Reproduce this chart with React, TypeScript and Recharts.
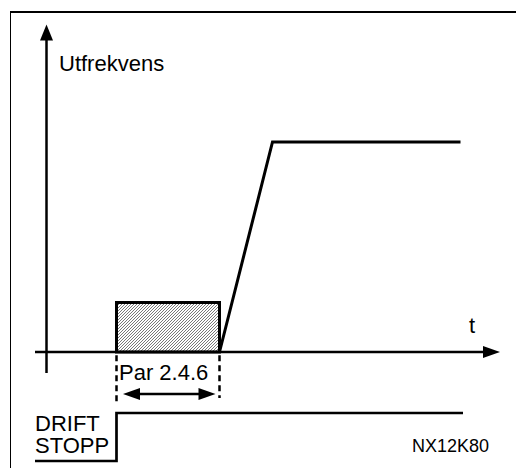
import React from 'react';
import {
  ComposedChart,
  Line,
  XAxis,
  YAxis,
  ReferenceLine,
  ReferenceArea,
} from 'recharts';

// time axis (t) and frequency (0..100 = set point)
const tAxisRange = [-1.15, 45.35];
const fAxisRange = [-10, 156];

// start delay box (Par 2.4.6)
const delayStart = 7.0;
const delayEnd = 17.3;
const delayLevel = 23.6;

// output frequency after the delay: ramp then flat
const rampT = [17.3, 22.6, 41.4];
const rampF = [0, 100, 100];

// run signal: STOPP = 0, DRIFT = 1
const runT = [-1.15, 7.0, 7.0, 41.65];
const runS = [0, 0, 1, 1];

// dimension marks below the time axis
const dimLeftEnd = -25.2;
const dimRightEnd = -21.9;
const dimArrowLevel = -20;
const dimArrowFrom = 7.65;
const dimArrowTo = 16.9;

const freqData = rampT.map((t, i) => ({ t, f: rampF[i] }));
const runData = runT.map((t, i) => ({ t, s: runS[i] }));

const FONT = "'Liberation Sans', Arial, Helvetica, sans-serif";

const arrowShape = (head: number, half: number, both: boolean) => (props: any) => {
  const { x1, y1, x2, y2, stroke, strokeWidth } = props;
  const a = Math.atan2(y2 - y1, x2 - x1);
  const ux = Math.cos(a);
  const uy = Math.sin(a);
  const px = -uy;
  const py = ux;
  const tipEnd = `${x2},${y2} ${x2 - ux * head + px * half},${y2 - uy * head + py * half} ${x2 - ux * head - px * half},${y2 - uy * head - py * half}`;
  const tipStart = `${x1},${y1} ${x1 + ux * head + px * half},${y1 + uy * head + py * half} ${x1 + ux * head - px * half},${y1 + uy * head - py * half}`;
  const sx = both ? x1 + ux * head * 0.8 : x1;
  const sy = both ? y1 + uy * head * 0.8 : y1;
  return (
    <g>
      <line x1={sx} y1={sy} x2={x2 - ux * head * 0.8} y2={y2 - uy * head * 0.8} stroke={stroke} strokeWidth={strokeWidth} />
      <polygon points={tipEnd} fill={stroke} />
      {both && <polygon points={tipStart} fill={stroke} />}
    </g>
  );
};

export default function App() {
  return (
    <div style={{ position: 'absolute', left: 0, top: 0, width: 516, height: 468, background: '#fff', overflow: 'hidden' }}>
      <div
        style={{
          position: 'absolute',
          left: 10,
          top: 11,
          width: 520,
          height: 470,
          borderTop: '2px solid #000',
          borderLeft: '1.5px solid #000',
        }}
      />
      <ComposedChart
        width={516}
        height={468}
        margin={{ top: 0, right: 0, bottom: 0, left: 0 }}
        style={{ position: 'absolute', left: 0, top: 0 }}
      >
        <defs>
          <pattern id="hatch" patternUnits="userSpaceOnUse" width="3" height="3">
            <rect width="3" height="3" fill="#fff" />
            <path d="M-1,1 l2,-2 M0,3 l3,-3 M2,4 l2,-2" stroke="#6a6a6a" strokeWidth="0.9" />
          </pattern>
        </defs>
        <XAxis type="number" dataKey="t" domain={[-4.65, 46.95]} allowDataOverflow hide />
        <YAxis type="number" domain={[-55.24, 167.62]} allowDataOverflow hide />
        <YAxis yAxisId="s" type="number" domain={[-0.146, 9.604]} allowDataOverflow hide />

        <ReferenceArea
          x1={delayStart}
          x2={delayEnd}
          y1={0}
          y2={delayLevel}
          fill="url(#hatch)"
          fillOpacity={1}
          stroke="#000"
          strokeWidth={3}
        />

        {/* axes */}
        <ReferenceLine
          segment={[{ x: tAxisRange[0], y: 0 }, { x: tAxisRange[1], y: 0 }]}
          stroke="#000"
          strokeWidth={2.5}
          shape={arrowShape(17, 6, false)}
        />
        <ReferenceLine
          segment={[{ x: 0, y: fAxisRange[0] }, { x: 0, y: fAxisRange[1] }]}
          stroke="#000"
          strokeWidth={2.5}
          shape={arrowShape(16, 6.5, false)}
        />

        {/* dimension Par 2.4.6 */}
        <ReferenceLine
          segment={[{ x: delayStart, y: -1.5 }, { x: delayStart, y: dimLeftEnd }]}
          stroke="#000"
          strokeWidth={2.5}
          strokeDasharray="6 4"
        />
        <ReferenceLine
          segment={[{ x: delayEnd, y: -1.5 }, { x: delayEnd, y: dimRightEnd }]}
          stroke="#000"
          strokeWidth={2.5}
          strokeDasharray="6 4"
        />
        <ReferenceLine
          segment={[{ x: dimArrowFrom, y: dimArrowLevel }, { x: dimArrowTo, y: dimArrowLevel }]}
          stroke="#000"
          strokeWidth={2.5}
          shape={arrowShape(17, 6, true)}
        />

        <Line
          data={freqData}
          dataKey="f"
          type="linear"
          stroke="#000"
          strokeWidth={3}
          dot={false}
          activeDot={false}
          isAnimationActive={false}
        />
        <Line
          yAxisId="s"
          data={runData}
          dataKey="s"
          type="linear"
          stroke="#000"
          strokeWidth={2.7}
          dot={false}
          activeDot={false}
          isAnimationActive={false}
        />

        <text x={59} y={71} fontFamily={FONT} fontSize={22} fill="#000">Utfrekvens</text>
        <text x={469} y={333} fontFamily={FONT} fontSize={22} fill="#000">t</text>
        <text x={119} y={380} fontFamily={FONT} fontSize={22} fill="#000">Par 2.4.6</text>
        {/* two-line run label kept in one text element */}
        <text fontFamily={FONT} fontSize={22} fill="#000">
          <tspan x={35} y={431}>DRIFT</tspan>
          <tspan x={35} y={453}>STOPP</tspan>
        </text>
        <text x={412} y={452} fontFamily={FONT} fontSize={18} fill="#000">NX12K80</text>
      </ComposedChart>
    </div>
  );
}
